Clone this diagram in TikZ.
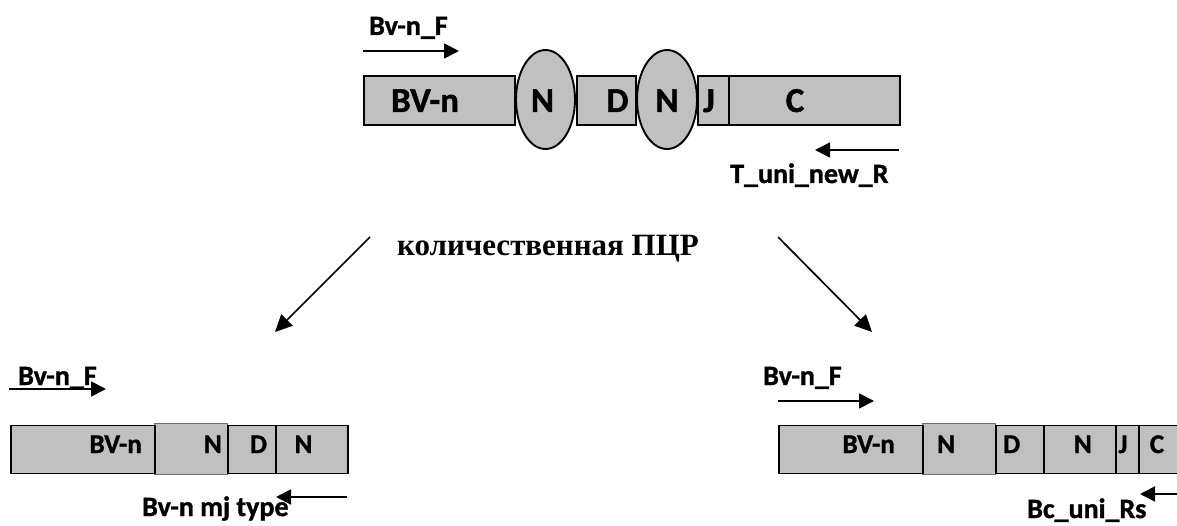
\documentclass[tikz,border=0pt]{standalone}
\usepackage{fontspec}
\newfontfamily\calfont{Carlito}[BoldFont={Carlito Bold},BoldFeatures={FakeBold=1.2}]
\newfontfamily\rusfont{Liberation Serif}
\usetikzlibrary{shapes.geometric,arrows.meta}
\definecolor{segfill}{HTML}{C0C0C0}
\definecolor{segedge}{HTML}{6E6E6E}
\begin{document}
\begin{tikzpicture}[x=1pt,y=-1pt,
  seg/.style={draw=black, line width=1.9pt, fill=segfill, rectangle, inner sep=0pt, anchor=north west},
  segsoft/.style={draw=segedge, line width=1.4pt, fill=segfill, rectangle, inner sep=0pt, anchor=north west},
  ell/.style={draw=black, line width=1.9pt, fill=segfill, ellipse, inner sep=0pt},
  boxtxt/.style={font=\calfont\bfseries\fontsize{35}{40}\selectfont, anchor=base, inner sep=0pt},
  smalltxt/.style={font=\calfont\bfseries\fontsize{27}{30}\selectfont, anchor=base, inner sep=0pt},
  primer/.style={font=\calfont\bfseries\fontsize{28}{30}\selectfont, anchor=base west, inner sep=0pt},
  parrow/.style={line width=1.8pt, -{Triangle[length=15pt,width=15pt]}},
  darrow/.style={line width=1.7pt, -{Triangle[length=17pt,width=16pt]}}]
\useasboundingbox (0,0) rectangle (1177,526);

% ---------- top construct ----------
\node[seg, minimum width=151pt, minimum height=49pt] (tbvn) at (363,75) {};
\node[seg, minimum width=59pt, minimum height=49pt] (td) at (576,75) {};
\node[seg, minimum width=31pt, minimum height=49pt] (tj) at (697,75) {};
\node[seg, minimum width=171pt, minimum height=49pt] (tc) at (728,75) {};
\node[ell, minimum width=59pt, minimum height=99pt] (tn1) at (545.5,99.5) {};
\node[ell, minimum width=60pt, minimum height=99pt] (tn2) at (667,99.5) {};

\node[boxtxt] (ltbvn) at (425,112) {BV-n};
\node[boxtxt] (ltn1) at (542.5,112) {N};
\node[boxtxt] (ltd) at (617.5,112) {D};
\node[boxtxt] (ltn2) at (667,112) {N};
\node[boxtxt] (ltj) at (709,112) {J};
\node[boxtxt] (ltc) at (795,112) {C};

\node[primer] (p1) at (369,35) {Bv-n\_F};
\node[primer] (p2) at (730,183) {T\_uni\_new\_R};
\coordinate (a1s) at (363,51); \coordinate (a1e) at (459,51);
\coordinate (a2s) at (899,150); \coordinate (a2e) at (815,150);
\draw[parrow] (a1s) -- (a1e);
\draw[parrow] (a2s) -- (a2e);

% ---------- qPCR ----------
\node[font=\rusfont\bfseries\fontsize{31}{34}\selectfont, anchor=base, inner sep=0pt] (qpcr) at (548,256) {количественная ПЦР};
\coordinate (d1s) at (370,237); \coordinate (d1e) at (275,332);
\coordinate (d2s) at (778,237); \coordinate (d2e) at (872,332);
\draw[darrow] (d1s) -- (d1e);
\draw[darrow] (d2s) -- (d2e);

% ---------- bottom left ----------
\node[segsoft, minimum width=73pt, minimum height=51pt] (bl2) at (154,423) {};
\node[seg, minimum width=144pt, minimum height=48pt] (bl1) at (10,424.5) {};
\node[seg, minimum width=48pt, minimum height=48pt] (bl3) at (227,424.5) {};
\node[seg, minimum width=72pt, minimum height=48pt] (bl4) at (275,424.5) {};
\node[smalltxt, anchor=base east] (lbl1) at (142,453) {BV-n};
\node[smalltxt, anchor=base east] (lbl2) at (222,453) {N};
\node[smalltxt] (lbl3) at (258.5,453) {D};
\node[smalltxt] (lbl4) at (303.5,453) {N};

\node[primer] (p3) at (18,385) {Bv-n\_F};
\node[primer] (p5) at (142,516) {Bv-n mj type};
\coordinate (a3s) at (9,389); \coordinate (a3e) at (106,389);
\coordinate (a5s) at (347,497); \coordinate (a5e) at (276,497);
\draw[parrow] (a3s) -- (a3e);
\draw[parrow] (a5s) -- (a5e);

% ---------- bottom right ----------
\node[segsoft, minimum width=73pt, minimum height=51pt] (br2) at (922,423) {};
\node[seg, minimum width=144pt, minimum height=48pt] (br1) at (778,424.5) {};
\node[seg, minimum width=48pt, minimum height=48pt] (br3) at (995,424.5) {};
\node[seg, minimum width=72pt, minimum height=48pt] (br4) at (1043,424.5) {};
\node[seg, minimum width=23pt, minimum height=48pt] (br5) at (1115,424.5) {};
\node[seg, minimum width=60pt, minimum height=48pt] (br6) at (1138,424.5) {};
\node[smalltxt, anchor=base east] (lbr1) at (895,453) {BV-n};
\node[smalltxt, anchor=base west] (lbr2) at (937,453) {N};
\node[smalltxt, anchor=base west] (lbr3) at (1003,453) {D};
\node[smalltxt, anchor=base east] (lbr4) at (1092,453) {N};
\node[smalltxt] (lbr5) at (1123,453) {J};
\node[smalltxt] (lbr6) at (1157,453) {C};

\node[primer] (p4) at (763,385) {Bv-n\_F};
\node[primer] (p6) at (1027,518) {Bc\_uni\_Rs};
\coordinate (a4s) at (778,401); \coordinate (a4e) at (874,401);
\coordinate (a6s) at (1185,494); \coordinate (a6e) at (1140,494);
\draw[parrow] (a4s) -- (a4e);
\draw[parrow] (a6s) -- (a6e);
\end{tikzpicture}
\end{document}
